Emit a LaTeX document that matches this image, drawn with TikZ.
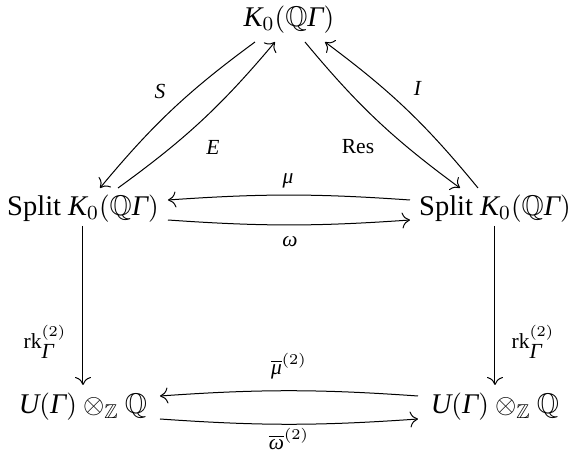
\documentclass[tikz,border=0pt]{standalone}
\usepackage{amssymb}
\usepackage{fontspec}
\setmainfont{Liberation Serif}
\usetikzlibrary{arrows.meta}
\newcommand\iK{\textit{K}}
\newcommand\iG{\textit{Γ}}
\newcommand\iU{\textit{U}}
\tikzset{
  obj/.style={inner sep=0pt, font=\fontsize{11.4}{13}\selectfont},
  lbl/.style={inner sep=0pt, font=\fontsize{8.6}{10}\selectfont},
  arr/.style={-{Computer Modern Rightarrow[length=3.2pt,width=6.4pt]}, line width=0.4pt}
}
\begin{document}
\begin{tikzpicture}[x=0.4pt,y=-0.4pt]
\useasboundingbox (0,0) rectangle (569,453);
\node[obj] (top) at (289,20) {$\iK_0(\mathbb{Q}\iG)$};
\node[obj] (ls) at (83,209) {Split $\iK_0(\mathbb{Q}\iG)$};
\node[obj] (rs) at (495,209) {Split $\iK_0(\mathbb{Q}\iG)$};
\node[obj] (lu) at (83,407) {$\iU(\iG)\otimes_{\mathbb{Z}}\mathbb{Q}$};
\node[obj] (ru) at (495,407) {$\iU(\iG)\otimes_{\mathbb{Z}}\mathbb{Q}$};

\draw[arr] ([shift={(-34,22)}]top.center) to[bend right=7] ([shift={(17,-21)}]ls.center);
\draw[arr] ([shift={(35,-21)}]ls.center) to[bend right=7] ([shift={(-14,22)}]top.center);
\draw[arr] ([shift={(16,22)}]top.center) to[bend right=7] ([shift={(-35,-21)}]rs.center);
\draw[arr] ([shift={(-17,-21)}]rs.center) to[bend right=7] ([shift={(36,22)}]top.center);
\draw[arr] ([shift={(-85,-9)}]rs.center) to[bend right=4] ([shift={(85,-9)}]ls.center);
\draw[arr] ([shift={(85,11)}]ls.center) to[bend right=4] ([shift={(-85,11)}]rs.center);
\draw[arr] ([shift={(0,17)}]ls.center) -- ([shift={(0,-22)}]lu.center);
\draw[arr] ([shift={(0,17)}]rs.center) -- ([shift={(0,-22)}]ru.center);
\draw[arr] ([shift={(-77,-11)}]ru.center) to[bend right=4] ([shift={(77,-11)}]lu.center);
\draw[arr] ([shift={(77,12)}]lu.center) to[bend right=4] ([shift={(-77,12)}]ru.center);

\node[lbl] (lS) at (160,91) {\textit{S}};
\node[lbl] (lE) at (213,147) {\textit{E}};
\node[lbl] (lRes) at (358,147) {Res};
\node[lbl] (lI) at (418,88) {\textit{I}};
\node[lbl] (lmu) at (288,181) {\textit{μ}};
\node[lbl] (lom) at (290,242) {\textit{ω}};
\node[lbl] (lrk1) at (45,342) {$\mathrm{rk}_{\iG}^{(2)}$};
\node[lbl] (lrk2) at (533,342) {$\mathrm{rk}_{\iG}^{(2)}$};
\node[lbl] (lmub) at (289,366) {$\overline{\textit{μ}}^{(2)}$};
\node[lbl] (lomb) at (289,439) {$\overline{\textit{ω}}^{(2)}$};
\end{tikzpicture}
\end{document}
